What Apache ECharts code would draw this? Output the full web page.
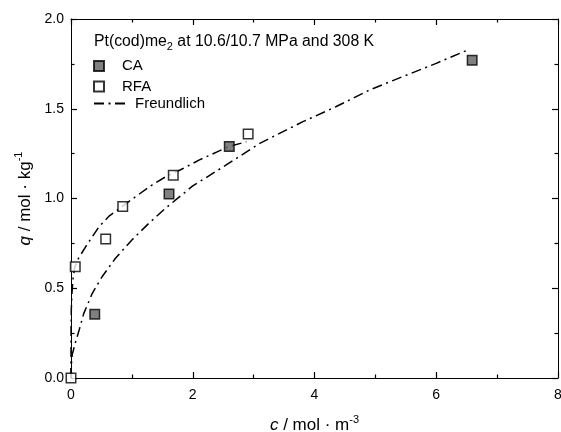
<!DOCTYPE html>
<html>
<head>
<meta charset="utf-8">
<script src="https://cdn.jsdelivr.net/npm/echarts@6/dist/echarts.min.js"></script>
<style>
  html, body { margin: 0; padding: 0; background: #fff; }
  #chart { width: 561px; height: 432px; }
</style>
</head>
<body>
<div id="chart"></div>
<script>
// Adsorption isotherm of Pt(cod)me2: measured loadings and Freundlich fits
const caC  = [0.39, 1.61, 2.60, 6.59];
const caQ  = [0.355, 1.025, 1.29, 1.77];
const rfaC = [0, 0.07, 0.57, 0.85, 1.68, 2.91];
const rfaQ = [0, 0.62, 0.775, 0.955, 1.13, 1.36];

// Freundlich curve through the RFA data
const fitRfaC = [0, 0.001, 0.005, 0.015, 0.035, 0.063, 0.12, 0.24, 0.46, 0.62, 0.85, 1.06, 1.33, 1.55, 1.8, 2.11, 2.4, 2.59, 2.88];
const fitRfaQ = [0, 0.28, 0.38, 0.47, 0.56, 0.62, 0.665, 0.731, 0.843, 0.90, 0.958, 1.01, 1.075, 1.12, 1.16, 1.215, 1.26, 1.289, 1.316];

// Freundlich curve through the CA data
const fitCaC = [0, 0.005, 0.02, 0.074, 0.128, 0.21, 0.35, 0.51, 0.73, 1.0, 1.28, 1.55, 2.0, 2.55, 3.1, 3.81, 4.35, 4.9, 5.45, 6.0, 6.5];
const fitCaQ = [0, 0.07, 0.13, 0.2, 0.26, 0.36, 0.472, 0.564, 0.667, 0.769, 0.862, 0.945, 1.07, 1.187, 1.307, 1.428, 1.511, 1.604, 1.679, 1.753, 1.825];

const xTicks = [0, 2, 4, 6, 8];
const yTicks = [0.0, 0.5, 1.0, 1.5, 2.0];

const FONT = 'Liberation Sans, Arial, sans-serif';
const pairs = (xs, ys) => xs.map((x, i) => [x, ys[i]]);
const dashDot = [10, 4.5, 2, 4.5];

// Frame axes: inward ticks on all four sides
const axisCommon = (onZero) => ({
  axisLine: { show: true, onZero: onZero, lineStyle: { color: '#000', width: 1 } },
  axisTick: { show: true, inside: true, length: 6, lineStyle: { color: '#000', width: 1.2 } },
  minorTick: { show: true, splitNumber: 2, length: 3.5, lineStyle: { color: '#000', width: 1.2 } },
  splitLine: { show: false },
  minorSplitLine: { show: false }
});

const nameRich = {
  i: { fontFamily: FONT, fontSize: 17, fontStyle: 'italic', color: '#000', lineHeight: 20, verticalAlign: 'bottom' },
  t: { fontFamily: FONT, fontSize: 17, color: '#000', lineHeight: 20, verticalAlign: 'bottom' },
  u: { fontFamily: FONT, fontSize: 11, color: '#000', lineHeight: 20, verticalAlign: 'top' }
};

const chart = echarts.init(document.getElementById('chart'), null, { renderer: 'canvas' });

chart.setOption({
  animation: false,
  backgroundColor: '#fff',
  textStyle: { fontFamily: FONT },
  grid: { left: 71, right: 3, top: 19, bottom: 54, outerBoundsMode: 'none', containLabel: false },
  title: {
    left: 89, top: 27,
    text: '{a|Pt(cod)me}{s|2}{a| at 10.6/10.7 MPa and 308 K}',
    textStyle: {
      fontWeight: 'normal',
      rich: {
        a: { fontFamily: FONT, fontSize: 15.8, fontWeight: 'normal', color: '#000', lineHeight: 20, verticalAlign: 'middle' },
        s: { fontFamily: FONT, fontSize: 11, fontWeight: 'normal', color: '#000', lineHeight: 20, verticalAlign: 'bottom' }
      }
    }
  },
  legend: [
    {
      data: ['CA', 'RFA'],
      orient: 'vertical',
      left: 88, top: 53.5,
      itemWidth: 10, itemHeight: 10, itemGap: 5.6,
      selectedMode: false,
      textStyle: { fontFamily: FONT, fontSize: 15, color: '#000', lineHeight: 10, padding: [0, 0, 0, 13] }
    },
    {
      data: ['Freundlich'],
      orient: 'vertical',
      left: 88, top: 91,
      itemWidth: 34, itemHeight: 12,
      selectedMode: false,
      itemStyle: { color: 'transparent', borderWidth: 0, opacity: 0 },
      textStyle: { fontFamily: FONT, fontSize: 15, color: '#000', padding: [0, 0, 0, 2] }
    }
  ],
  xAxis: [
    Object.assign({
      type: 'value', min: xTicks[0], max: xTicks[xTicks.length - 1], interval: 2,
      position: 'bottom',
      name: '{i|c}{t| / mol · m}{u|-3}',
      nameLocation: 'middle', nameGap: 36,
      nameTextStyle: { rich: nameRich },
      axisLabel: { color: '#000', fontFamily: FONT, fontSize: 14, margin: 10,
        formatter: v => xTicks.includes(v) ? String(v) : '' }
    }, axisCommon(true)),
    Object.assign({
      type: 'value', min: xTicks[0], max: xTicks[xTicks.length - 1], interval: 2,
      position: 'top', axisLabel: { show: false }
    }, axisCommon(false))
  ],
  yAxis: [
    Object.assign({
      type: 'value', min: yTicks[0], max: yTicks[yTicks.length - 1], interval: 0.5,
      position: 'left',
      name: '{i|q}{t| / mol · kg}{u|-1}',
      nameLocation: 'middle', nameGap: 37, nameRotate: 90,
      nameTextStyle: { rich: nameRich },
      axisLabel: { color: '#000', fontFamily: FONT, fontSize: 14, margin: 7,
        formatter: v => v.toFixed(1) }
    }, axisCommon(true)),
    Object.assign({
      type: 'value', min: yTicks[0], max: yTicks[yTicks.length - 1], interval: 0.5,
      position: 'right', axisLabel: { show: false }
    }, axisCommon(false))
  ],
  series: [
    {
      name: 'Freundlich', type: 'line', data: pairs(fitRfaC, fitRfaQ),
      showSymbol: false, symbol: 'none', smooth: false, z: 2,
      itemStyle: { color: '#000' },
      lineStyle: { color: '#000', width: 1.5, type: dashDot }
    },
    {
      name: 'Freundlich', type: 'line', data: pairs(fitCaC, fitCaQ),
      showSymbol: false, symbol: 'none', smooth: false, z: 2,
      itemStyle: { color: '#000' },
      lineStyle: { color: '#000', width: 1.5, type: dashDot }
    },
    {
      name: 'CA', type: 'scatter', data: pairs(caC, caQ),
      symbol: 'rect', symbolSize: 9.5, z: 5,
      itemStyle: { color: '#606060', borderColor: '#000', borderWidth: 1.5 }
    },
    {
      name: 'RFA', type: 'scatter', data: pairs(rfaC, rfaQ),
      symbol: 'rect', symbolSize: 9.5, z: 5,
      itemStyle: { color: '#fff', borderColor: '#000', borderWidth: 1.5 }
    }
  ]
});
</script>
</body>
</html>
